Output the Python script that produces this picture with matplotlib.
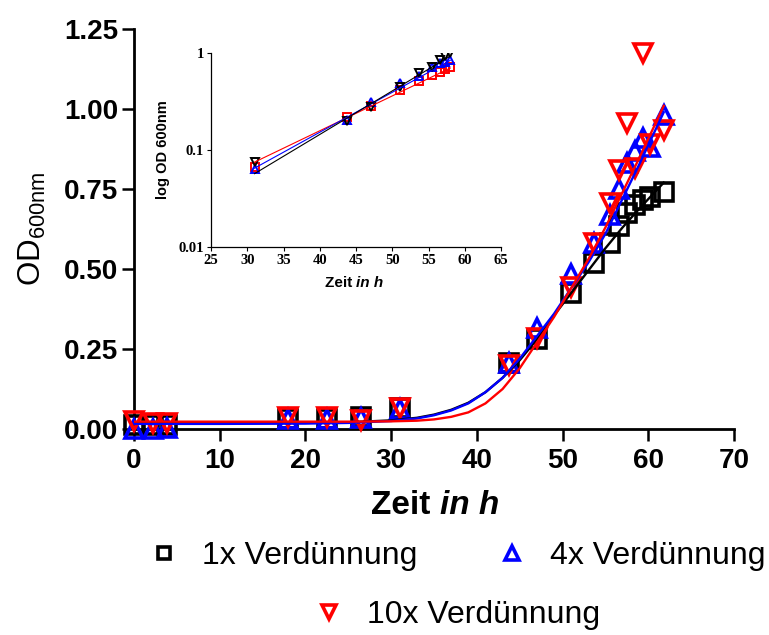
import numpy as np
import matplotlib
matplotlib.use('Agg')
import matplotlib.pyplot as plt
from matplotlib.lines import Line2D
from matplotlib.offsetbox import TextArea, HPacker, AnchoredOffsetbox

plt.rcParams['font.family'] = ['Liberation Sans', 'DejaVu Sans']
plt.rcParams['mathtext.fontset'] = 'custom'
plt.rcParams['mathtext.rm'] = 'Liberation Sans'

# main plot: measured OD600 values
zeit = [0, 2.2, 3.9, 18, 22.5, 26.5, 31, 43.8, 47, 51, 53.7, 55.5, 56.6, 57.5, 58.5, 59.4, 60.2, 61.8]
od_1x = [0.012, 0.012, 0.012, 0.030, 0.030, 0.038, 0.065, 0.205, 0.280, 0.425, 0.520, 0.580, 0.635,
         0.675, 0.700, 0.715, 0.725, 0.740]
od_4x = [0.000, 0.000, 0.003, 0.030, 0.030, 0.035, 0.062, 0.205, 0.315, 0.485, 0.580, 0.670, 0.750,
         0.830, 0.870, 0.910, 0.880, 0.980]
od_10x = [0.025, 0.018, 0.018, 0.036, 0.036, 0.028, 0.067, 0.200, 0.285, 0.445, 0.580, 0.705, 0.810,
          0.955, 0.815, 1.175, 0.890, 0.935]

# main plot: fitted growth curves
zeit_fit = [0, 10, 20, 25, 30, 33, 35, 37, 39, 41, 43, 45, 47, 49, 51, 53, 55, 57, 59, 61.8]
fit_1x = [0.018, 0.018, 0.019, 0.021, 0.027, 0.035, 0.045, 0.060, 0.082, 0.115, 0.160, 0.215, 0.280,
          0.355, 0.425, 0.495, 0.565, 0.630, 0.690, 0.770]
fit_4x = [0.016, 0.016, 0.017, 0.019, 0.025, 0.033, 0.043, 0.058, 0.080, 0.115, 0.160, 0.220, 0.290,
          0.360, 0.440, 0.520, 0.610, 0.720, 0.830, 0.990]
fit_10x = [0.023, 0.023, 0.023, 0.023, 0.024, 0.026, 0.030, 0.038, 0.052, 0.080, 0.125, 0.190, 0.270,
           0.350, 0.440, 0.530, 0.630, 0.740, 0.850, 1.010]

# inset: log plot of exponential phase
zeit_log = [31, 43.7, 47, 51, 53.7, 55.5, 56.6, 57.3, 58]
log_1x = [0.067, 0.217, 0.284, 0.416, 0.514, 0.600, 0.640, 0.680, 0.710]
log_4x = [0.064, 0.205, 0.315, 0.490, 0.580, 0.720, 0.780, 0.810, 0.850]
log_10x = [0.076, 0.200, 0.275, 0.450, 0.620, 0.720, 0.850, 0.930, 1.000]
zeit_log_fit = [31, 58]
log_fit_1x = [0.075, 0.700]
log_fit_4x = [0.065, 0.840]
log_fit_10x = [0.057, 0.930]

labels = ['1x Verdünnung', '4x Verdünnung', '10x Verdünnung']

fig = plt.figure(figsize=(7.69, 6.35), dpi=100)
ax = fig.add_axes([0.1743, 0.3244, 0.7802, 0.6299])

ms = 12.5
mew = 2.6
ax.plot(zeit, od_1x, 's', ms=ms, mfc='none', mec='black', mew=mew, clip_on=False, zorder=3)
ax.plot(zeit, od_4x, '^', ms=ms, mfc='none', mec='blue', mew=mew, clip_on=False, zorder=3)
ax.plot(zeit, od_10x, 'v', ms=ms, mfc='none', mec='red', mew=mew, clip_on=False, zorder=3)
ax.plot(zeit_fit, fit_1x, '-', color='black', lw=1.7, zorder=4)
ax.plot(zeit_fit, fit_4x, '-', color='blue', lw=1.7, zorder=4)
ax.plot(zeit_fit, fit_10x, '-', color='red', lw=1.7, zorder=4)

ax.set_xlim(0, 70)
ax.set_ylim(0, 1.25)
ax.set_xticks(np.arange(0, 71, 10))
ax.set_yticks([0, 0.25, 0.5, 0.75, 1.0, 1.25])
ax.set_yticklabels(['%.2f' % v for v in [0, 0.25, 0.5, 0.75, 1.0, 1.25]])
for s in ['top', 'right']:
    ax.spines[s].set_visible(False)
for s in ['left', 'bottom']:
    ax.spines[s].set_linewidth(2)
ax.tick_params(direction='out', length=8.5, width=1.8, labelsize=20)
ax.tick_params(axis='y', pad=3)
ax.tick_params(axis='x', pad=5)
for lab in ax.get_xticklabels() + ax.get_yticklabels():
    lab.set_fontweight('bold')

ax.set_ylabel(r'OD$_{\mathregular{600nm}}$', fontsize=22.5)
ax.yaxis.set_label_coords(-0.143, 0.5)

xl = HPacker(children=[TextArea('Zeit ', textprops=dict(fontsize=24, fontweight='bold')),
                       TextArea('in h', textprops=dict(fontsize=24, fontweight='bold', style='italic'))],
             align='baseline', pad=0, sep=0)
ax.add_artist(AnchoredOffsetbox(loc='center', child=xl, frameon=False, pad=0, borderpad=0,
                                bbox_to_anchor=(0.502, -0.19), bbox_transform=ax.transAxes))

# inset
axi = fig.add_axes([0.2744, 0.611, 0.3771, 0.3055])
axi.plot(zeit_log, log_1x, 's', ms=5.5, mfc='none', mec='red', mew=1.4)
axi.plot(zeit_log, log_4x, '^', ms=5.5, mfc='none', mec='blue', mew=1.4)
axi.plot(zeit_log, log_10x, 'v', ms=5.5, mfc='none', mec='black', mew=1.4)
axi.plot(zeit_log_fit, log_fit_1x, '-', color='red', lw=0.8)
axi.plot(zeit_log_fit, log_fit_4x, '-', color='blue', lw=0.8)
axi.plot(zeit_log_fit, log_fit_10x, '-', color='black', lw=0.8)
axi.set_yscale('log')
axi.set_xlim(25, 65)
axi.set_ylim(0.01, 1)
axi.set_xticks(np.arange(25, 66, 5))
axi.set_yticks([0.01, 0.1, 1])
axi.set_yticklabels(['0.01', '0.1', '1'])
axi.minorticks_off()
axi.patch.set_alpha(0)
for s in ['top', 'right']:
    axi.spines[s].set_visible(False)
for s in ['left', 'bottom']:
    axi.spines[s].set_linewidth(0.9)
axi.tick_params(direction='out', length=3, width=0.8, labelsize=10.5, pad=2)
for lab in axi.get_xticklabels() + axi.get_yticklabels():
    lab.set_fontweight('bold')
    lab.set_family(['Liberation Serif', 'DejaVu Serif'])
axi.set_ylabel('log OD 600nm', fontsize=10.5, fontweight='bold')
axi.yaxis.set_label_coords(-0.141, 0.5)
xli = HPacker(children=[TextArea('Zeit ', textprops=dict(fontsize=11, fontweight='bold')),
                        TextArea('in h', textprops=dict(fontsize=11, fontweight='bold', style='italic'))],
              align='baseline', pad=0, sep=0)
axi.add_artist(AnchoredOffsetbox(loc='center', child=xli, frameon=False, pad=0, borderpad=0,
                                 bbox_to_anchor=(0.493, -0.186), bbox_transform=axi.transAxes))

# legend: two items on the first row, one centred below
h1 = Line2D([], [], ls='none', marker='s', ms=9, mfc='none', mec='black', mew=2.6)
h2 = Line2D([], [], ls='none', marker='^', ms=10, mfc='none', mec='blue', mew=2.6)
h3 = Line2D([], [], ls='none', marker='v', ms=10, mfc='none', mec='red', mew=2.6)
leg_kw = dict(frameon=False, fontsize=23, handlelength=0.8, handletextpad=0.8,
              borderpad=0, borderaxespad=0)
fig.legend([h1, h2], labels[:2], loc='center', ncol=2, columnspacing=2.55,
           bbox_to_anchor=(0.596, 0.124), **leg_kw)
fig.legend([h3], labels[2:], loc='center', bbox_to_anchor=(0.596, 0.031), **leg_kw)

fig.savefig('out.png', dpi=100)
